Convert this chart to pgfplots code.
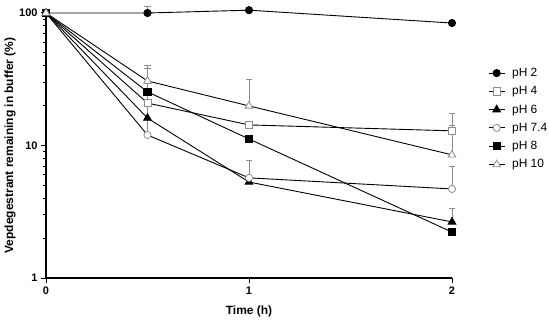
\documentclass[border=0pt]{standalone}
\usepackage{pgfplots}
\pgfplotsset{compat=1.18}
\usepackage{fontspec}
\setmainfont{Liberation Sans}
\definecolor{eb}{RGB}{140,140,140}
\begin{document}
\begin{tikzpicture}
\path[use as bounding box] (-46bp,-45bp) rectangle (504bp,278bp);
\begin{axis}[
  scale only axis, width=406bp, height=265bp,
  ymode=log, ymin=1, ymax=100, xmin=0, xmax=2,
  axis lines=left, axis line style={line width=1.1pt, -},
  clip=false,
  xtick={0,1,2}, ytick={1,10,100},
  yticklabels={1,10,100},
  log ticks with fixed point,
  tick style={black, line width=1pt},
  tick align=outside,
  major tick length=5bp, minor tick length=3bp,
  ticklabel style={font=\fontsize{11}{12}\selectfont\bfseries},
  /pgf/number format/assume math mode=true,
  xlabel={Time (h)},
  ylabel={Vepdegestrant remaining in buffer (\%)},
  label style={font=\fontsize{12}{13}\selectfont\bfseries},
  xlabel style={at={(axis description cs:0.5,-0.125)}, anchor=center},
  ylabel style={at={(axis description cs:-0.0887,0.5)}, anchor=center},
  legend style={draw=none, fill=none, at={(axis description cs:1.0887,0.80)}, anchor=north west,
    inner sep=0pt, font=\fontsize{12}{13}\selectfont, row sep=4.5bp, cells={anchor=west},
    /tikz/every odd column/.append style={column sep=5bp}},
  legend image code/.code={\draw[mark repeat=2,mark phase=2] plot coordinates {(0bp,0bp)(8bp,0bp)(16bp,0bp)};},
  every axis plot/.append style={line width=0.9pt, black},
  error bars/y dir=plus, error bars/y explicit,
  error bars/error bar style={eb, line width=0.8pt},
  error bars/error mark options={eb, line width=0.8pt, rotate=90, mark size=3bp},
]
% pH 2
\addplot[mark=*, mark size=3.6bp, mark options={fill=black, draw=black}]
  coordinates {(0,100) +- (0,0) (0.5,100) +- (0,13) (1,105) +- (0,0) (2,84) +- (0,0)};
\addlegendentry{pH 2}
% pH 4
\addplot[mark=square*, mark size=3.6bp, mark options={fill=white, draw=eb, line width=0.8pt}]
  coordinates {(0,100) +- (0,0) (0.5,20.9) +- (0,17.5) (1,14.3) +- (0,1.0) (2,12.9) +- (0,4.7)};
\addlegendentry{pH 4}
% pH 6
\addplot[mark=triangle*, mark size=4.4bp, mark options={fill=black, draw=black}]
  coordinates {(0,100) +- (0,0) (0.5,16.1) +- (0,4) (1,5.3) +- (0,0.5) (2,2.65) +- (0,0.72)};
\addlegendentry{pH 6}
% pH 7.4
\addplot[mark=*, mark size=3.6bp, mark options={fill=white, draw=eb, line width=0.8pt}]
  coordinates {(0,100) +- (0,0) (0.5,12.0) +- (0,4) (1,5.7) +- (0,2.0) (2,4.7) +- (0,2.3)};
\addlegendentry{pH 7.4}
% pH 8
\addplot[mark=square*, mark size=3.6bp, mark options={fill=black, draw=black}]
  coordinates {(0,100) +- (0,0) (0.5,25.4) +- (0,4) (1,11.2) +- (0,0.6) (2,2.22) +- (0,0)};
\addlegendentry{pH 8}
% pH 10
\addplot[mark=triangle*, mark size=4.4bp, mark options={fill=white, draw=eb, line width=0.8pt}]
  coordinates {(0,100) +- (0,0) (0.5,30.7) +- (0,9.8) (1,19.9) +- (0,11.9) (2,8.5) +- (0,5.8)};
\addlegendentry{pH 10}
\end{axis}
\end{tikzpicture}
\end{document}
